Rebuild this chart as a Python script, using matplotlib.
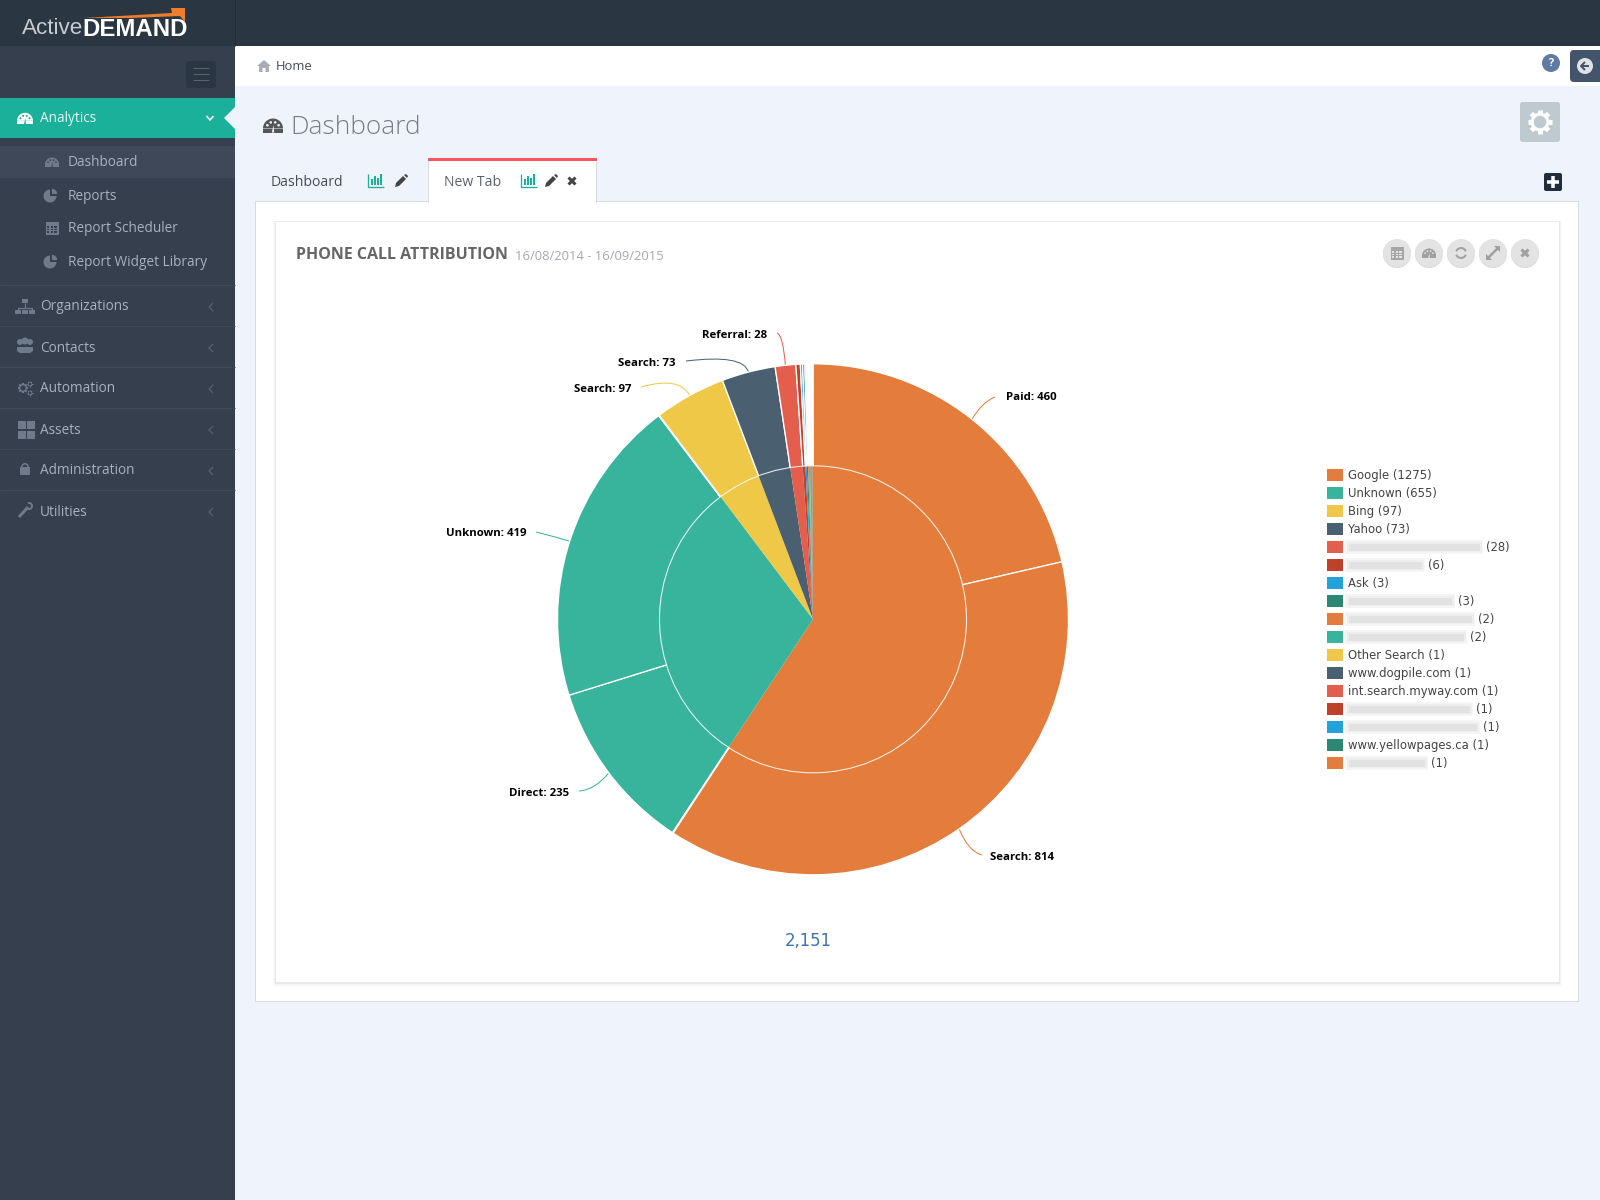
import numpy as np
import matplotlib
matplotlib.use("Agg")
import matplotlib.pyplot as plt
from matplotlib.patches import Rectangle, Circle, Wedge, Polygon, FancyBboxPatch, PathPatch
from matplotlib.path import Path

# data
inner_names = ["Google", "Unknown", "Bing", "Yahoo", "", "", "Ask", "", "", "", "Other Search",
               "www.dogpile.com", "int.search.myway.com", "", "", "www.yellowpages.ca", ""]
inner_values = [1275, 655, 97, 73, 28, 6, 3, 3, 2, 2, 1, 1, 1, 1, 1, 1, 1]

outer_labels = ["Paid", "Search", "", "Direct", "Unknown", "", "Search", "Search", "Referral"]
outer_values = [460, 814, 1, 235, 419, 1, 97, 73, 28]
tail_values = inner_values[5:]
total_label = "2,151"

nav_main = ["Organizations", "Contacts", "Automation", "Assets", "Administration", "Utilities"]
nav_sub = ["Dashboard", "Reports", "Report Scheduler", "Report Widget Library"]

# colours
palette = ["#e47c3c", "#37b49b", "#efc848", "#4a6070", "#e55d4d", "#c0402a", "#20a2da", "#2b8873"]
SIDE = "#353f4d"
TOP = "#2b3643"
PAGE = "#eff3fb"
TEAL = "#1bb09a"
NAVTXT = "#a8b1c0"
ICON = "#6f7a8a"

FONT = "Open Sans"
PT = 0.72  # px to pt at dpi 100

fig = plt.figure(figsize=(16, 12), dpi=100, facecolor=PAGE)
ax = fig.add_axes([0, 0, 1, 1])
ax.set_xlim(0, 1600)
ax.set_ylim(1200, 0)
ax.axis("off")


def rect(x0, y0, x1, y1, color, z=1, **kw):
    ax.add_patch(Rectangle((x0, y0), x1 - x0, y1 - y0, fc=color, ec="none", zorder=z, **kw))


def rrect(x0, y0, x1, y1, color, r=3, z=2):
    ax.add_patch(FancyBboxPatch((x0 + r, y0 + r), x1 - x0 - 2 * r, y1 - y0 - 2 * r,
                                boxstyle=f"round,pad={r},rounding_size={r}", fc=color, ec="none", zorder=z))


def txt(x, y, s, px, color, ha="left", weight="normal", family=FONT, z=6, **kw):
    return ax.text(x, y, s, fontsize=px * PT, color=color, ha=ha, va="center", fontweight=weight,
                   family=family, zorder=z, **kw)


def poly(points, color, z=5):
    ax.add_patch(Polygon(points, closed=True, fc=color, ec="none", zorder=z))


def line(xs, ys, color, lw=1.0, z=5):
    ax.plot(xs, ys, color=color, lw=lw * PT, zorder=z, solid_capstyle="butt")


def gauge(x, y, r, color, hole):
    ax.add_patch(Wedge((x, y + r * 0.35), r, 180, 360, fc=color, ec="none", zorder=5))
    rect(x - r, y + r * 0.35, x + r, y + r * 0.75, color, z=5)
    for a in (-60, -20, 20, 60):
        ax.add_patch(Circle((x + 0.65 * r * np.sin(np.radians(a)), y + r * 0.35 - 0.65 * r * np.cos(np.radians(a))),
                            r * 0.13, fc=hole, ec="none", zorder=6))
    poly([(x - r * 0.12, y + r * 0.75), (x + r * 0.12, y + r * 0.75), (x + r * 0.05, y)], hole, z=6)


def pie_icon(x, y, r, color):
    ax.add_patch(Wedge((x - 1, y + 1), r, 0, 270, fc=color, ec="none", zorder=5))
    ax.add_patch(Wedge((x + 1, y - 1), r * 0.8, 270, 360, fc=color, ec="none", zorder=5))


def calendar(x, y, w, h, color, bg):
    rect(x - w / 2, y - h / 2, x + w / 2, y + h / 2, color, z=5)
    for i in range(3):
        for j in range(3):
            rect(x - w / 2 + 1.5 + i * (w - 2) / 3, y - h / 2 + 4.5 + j * (h - 5) / 3,
                 x - w / 2 + (i + 1) * (w - 2) / 3, y - h / 2 + 3.5 + (j + 1) * (h - 5) / 3, bg, z=6)


def chevron_left(x, y, color):
    line([x + 3, x - 1, x + 3], [y - 4, y, y + 4], color, lw=1.3)


def bars_icon(x, y):
    line([x - 8, x - 8, x + 8], [y - 7, y + 6, y + 6], TEAL, lw=1.3)
    for dx, h in zip((-5, -2, 1, 4), (6, 9, 7, 11)):
        rect(x + dx, y + 4 - h, x + dx + 2, y + 4, TEAL, z=5)


def pencil(x, y, color):
    poly([(x - 6, y + 6), (x - 5, y + 2), (x + 2, y - 5), (x + 5, y - 2), (x - 2, y + 5)], color)
    poly([(x + 3, y - 6), (x + 5, y - 7), (x + 7, y - 5), (x + 6, y - 3)], color)


def cross(x, y, color, s=4, lw=3):
    line([x - s, x + s], [y - s, y + s], color, lw=lw)
    line([x - s, x + s], [y + s, y - s], color, lw=lw)


def house(x, y, color):
    poly([(x - 7, y), (x, y - 6), (x + 7, y), (x + 5, y), (x + 5, y + 6), (x + 1.5, y + 6), (x + 1.5, y + 2),
          (x - 1.5, y + 2), (x - 1.5, y + 6), (x - 5, y + 6), (x - 5, y)], color)


def gear(x, y, r, color, bg):
    for a in range(0, 360, 45):
        c, s = np.cos(np.radians(a)), np.sin(np.radians(a))
        line([x, x + c * r * 1.35], [y, y + s * r * 1.35], color, lw=r * 0.55)
    ax.add_patch(Circle((x, y), r * 1.05, fc=color, ec="none", zorder=6))
    ax.add_patch(Circle((x, y), r * 0.7, fc=bg, ec="none", zorder=7))


# page frame
rect(0, 0, 1600, 46, TOP)
rect(0, 46, 235, 1200, SIDE)
rect(235, 46, 1600, 86, "white")
line([235, 235], [0, 46], "#232c38", lw=1)

# logo
txt(22, 29, "Active", 22.5, "#c8ccd0", family="Liberation Sans")
txt(82, 29, "DEMAND", 24, "white", weight="bold", family="Liberation Sans")
poly([(84, 18), (172, 13), (171, 8), (185, 8), (185, 22), (180, 16), (130, 18)], "#ee7e2a", z=5)

# sidebar
rrect(186, 61, 216, 88, "#2b3643", r=3)
for yy in (68, 74, 80):
    line([193, 209], [yy, yy], "#566272", lw=1)
rect(0, 98, 235, 138, TEAL)
poly([(235, 107), (224, 118), (235, 129)], PAGE)
gauge(25, 118, 8, "white", TEAL)
txt(40, 119, "Analytics", 13.6, "#e8f7f4")
line([206.5, 210, 213.5], [116, 120, 116], "white", lw=1.6)

rect(0, 146, 235, 178, "#3e4859")
sub_y = [162, 195, 228, 261]
for name, yy in zip(nav_sub, sub_y):
    txt(68, yy + 1, name, 13.6, NAVTXT)
gauge(52, 162, 7, ICON, "#3e4859")
pie_icon(51, 195, 6.5, ICON)
calendar(52, 228, 13, 13, ICON, SIDE)
pie_icon(51, 261, 6.5, ICON)

main_y = [306, 347, 388, 429, 470, 511]
for name, yy in zip(nav_main, main_y):
    txt(40, yy + 1, name, 13.6, NAVTXT)
    chevron_left(210, yy + 1, "#556070")
    line([0, 235], [yy - 21, yy - 21], "#3f4a59", lw=1)

# sidebar icons
rect(22, 299, 28, 303, ICON, z=5)
line([25, 25, 18, 18], [303, 308, 308, 310], ICON, lw=1.2)
line([25, 32, 32], [308, 308, 310], ICON, lw=1.2)
for xx in (18, 25, 32):
    rect(xx - 3, 310, xx + 3, 314, ICON, z=5)
for xx, yy, r in ((20, 342, 3), (25, 341, 3.5), (30, 342, 3)):
    ax.add_patch(Circle((xx, yy), r, fc=ICON, ec="none", zorder=5))
poly([(17, 347), (33, 347), (33, 351), (30, 353), (20, 353), (17, 351)], ICON)
gear(23, 388, 3.8, ICON, SIDE)
gear(30, 384, 2, ICON, SIDE)
gear(30, 393, 2, ICON, SIDE)
for xx in (18, 27):
    for yy in (421, 431):
        rect(xx, yy, xx + 7.5, yy + 8, ICON, z=5)
rrect(20, 467, 30, 475, ICON, r=1)
ax.add_patch(Wedge((25, 467), 4, 180, 360, width=1.6, fc=ICON, ec="none", zorder=5))
line([19, 28], [517, 507], ICON, lw=3)
ax.add_patch(Wedge((29, 506), 4, 250, 110, width=2, fc=ICON, ec="none", zorder=5))

# breadcrumb and header
house(264, 66, "#a9aeb5")
txt(276, 67, "Home", 13, "#444c58")
gauge(273, 125, 10, "#555", PAGE)
txt(290, 127, "Dashboard", 26.3, "#787c84", weight="light")
ax.add_patch(Circle((1551, 63), 9, fc="#5d7ba3", ec="none", zorder=5))
txt(1551, 63, "?", 11, "white", ha="center", weight="bold")
rrect(1570, 50, 1604, 82, "#44546a", r=4)
ax.add_patch(Circle((1585, 66), 8, fc="#dfe3e8", ec="none", zorder=5))
line([1589, 1581], [66, 66], "#44546a", lw=2, z=6)
line([1585, 1581, 1585], [62, 66, 70], "#44546a", lw=2, z=6)
rrect(1520, 102, 1560, 142, "#bfc9d0", r=3)
gear(1540, 122, 9, "white", "#bfc9d0")
rrect(1544, 173, 1562, 191, "#1f2d3d", r=2)
line([1547, 1559], [182, 182], "white", lw=3.5)
line([1553, 1553], [176, 188], "white", lw=3.5)

# tabs and panel
rect(255, 201, 1579, 1002, "#d9dce3", z=1)
rect(256, 202, 1578, 1001, "white", z=1)
rect(428, 158, 597, 203, "#d9dce3", z=1.5)
rect(429, 160, 596, 203, "white", z=1.6)
rect(428, 158, 597, 161, "#f95661", z=2)
txt(271, 182, "Dashboard", 14, "#444c58")
bars_icon(376, 181)
pencil(401, 181, "#444")
txt(444, 182, "New Tab", 14, "#5a6270")
bars_icon(529, 181)
pencil(551, 181, "#444")
cross(572, 181, "#444", s=3.5, lw=3)

# card with a soft shadow, stronger at the bottom
rect(273, 221, 1562, 987, "#fafafa", z=1.8)
rect(274, 221, 1561, 985, "#f4f4f5", z=1.85)
rect(275, 221, 1560, 983.5, "#e9e9eb", z=1.9)
rect(276, 222, 1559, 982, "white", z=2)
txt(296, 255, "PHONE CALL ATTRIBUTION", 16, "#666666", weight="bold")
txt(515, 256, "16/08/2014 - 16/09/2015", 13, "#a6a9b2")

btn_x = [1397, 1429, 1461, 1493, 1525]
for xx in btn_x:
    ax.add_patch(Circle((xx, 254), 14, fc="#d8d8d8", ec="none", zorder=3))
    ax.add_patch(Circle((xx, 253), 14, fc="#e3e3e3", ec="none", zorder=3))
calendar(btn_x[0], 253, 13, 13, "#a6a6a6", "#e3e3e3")
gauge(btn_x[1], 253, 7, "#a0a0a0", "#e3e3e3")
ax.add_patch(Wedge((btn_x[2], 253), 6, 200, 340, width=2, fc="#a0a0a0", ec="none", zorder=5))
ax.add_patch(Wedge((btn_x[2], 253), 6, 20, 160, width=2, fc="#a0a0a0", ec="none", zorder=5))
line([btn_x[3] - 6, btn_x[3] + 6], [259, 247], "#a0a0a0", lw=2.5)
poly([(btn_x[3] + 7, 246), (btn_x[3] + 1, 246), (btn_x[3] + 7, 252)], "#a0a0a0")
poly([(btn_x[3] - 7, 260), (btn_x[3] - 1, 260), (btn_x[3] - 7, 254)], "#a0a0a0")
cross(btn_x[4], 253, "#a0a0a0", s=3.5, lw=3)

# the two pie rings
CX, CY, R, R_IN = 813, 619.3, 255.5, 153.5
M = 1.02
pie_ax = fig.add_axes([(CX - R * M) / 1600, 1 - (CY + R * M) / 1200, 2 * R * M / 1600, 2 * R * M / 1200])
outer_all = outer_values + tail_values
outer_cols = [palette[0]] * 3 + [palette[1]] * 3 + [palette[2], palette[3], palette[4]] + \
    [palette[(i + 5) % 8] for i in range(len(tail_values))]
inner_cols = [palette[i % 8] for i in range(len(inner_values))]
pie_ax.pie(outer_all, radius=1, colors=outer_cols, startangle=90, counterclock=False,
           wedgeprops=dict(edgecolor="white", linewidth=1.3 * PT))
pie_ax.pie(inner_values, radius=R_IN / R, colors=inner_cols, startangle=90, counterclock=False,
           wedgeprops=dict(linewidth=0))
pie_ax.add_patch(Circle((0, 0), R_IN / R, fc="none", ec="white", lw=1.1 * PT, alpha=0.85, zorder=5))
pie_ax.set_xlim(-M, M)
pie_ax.set_ylim(-M, M)
pie_ax.axis("off")

# slice labels, leader drawn from the slice middle out to the label
leader_ctrl = {0: (982, 402), 1: (968, 851), 3: (595, 790), 4: (556, 537), 6: (680, 376), 7: (744, 354), 8: (783, 335)}
leader_end = {0: (995, 397), 1: (982, 855), 3: (579, 791), 4: (536, 532), 6: (641, 387), 7: (686, 361), 8: (777, 333)}
label_pos = {0: (1006, 398, "left"), 1: (990, 857, "left"), 3: (569, 793, "right"), 4: (526, 533, "right"),
             6: (631, 390, "right"), 7: (676, 363, "right"), 8: (767, 336, "right")}
grand = sum(outer_all)
cum = 0
for i, (lab, val) in enumerate(zip(outer_labels, outer_values)):
    mid = np.radians((cum + val / 2) / grand * 360)
    cum += val
    if not lab:
        continue
    start = (CX + R * np.sin(mid), CY - R * np.cos(mid))
    verts = [start, leader_ctrl[i], leader_end[i]]
    ax.add_patch(PathPatch(Path(verts, [Path.MOVETO, Path.CURVE3, Path.CURVE3]), fc="none",
                           ec=outer_cols[i], lw=1.0 * PT, zorder=5))
    xx, yy, ha = label_pos[i]
    txt(xx, yy, f"{lab}: {val}", 11.4, "black", ha=ha, weight="bold")

txt(808, 941, total_label, 16.5, "#3f72af", ha="center", family="DejaVu Sans")

# legend, the screenshot has some of the names blurred out
blur_end = {4: 1483, 5: 1425, 7: 1455, 8: 1475, 9: 1467, 13: 1473, 14: 1480, 16: 1428}
leg_y0, leg_step = 474.5, 18
for i, (name, val) in enumerate(zip(inner_names, inner_values)):
    yy = leg_y0 + i * leg_step
    rect(1327, yy - 6, 1343, yy + 6, inner_cols[i], z=3)
    if name:
        txt(1348, yy + 0.5, f"{name} ({val})", 11.6, "#444444", family="DejaVu Sans")
    else:
        xe = blur_end[i]
        rect(1345, yy - 7, xe, yy + 7, "#f5f5f5", z=3)
        rect(1347, yy - 5, xe - 1, yy + 5, "#eeeeee", z=3)
        rect(1349, yy - 3, xe - 3, yy + 4, "#e2e2e2", z=3)
        txt(xe + 3, yy + 0.5, f"({val})", 11.6, "#444444", family="DejaVu Sans")

fig.savefig("out.png", dpi=100, facecolor=PAGE)
